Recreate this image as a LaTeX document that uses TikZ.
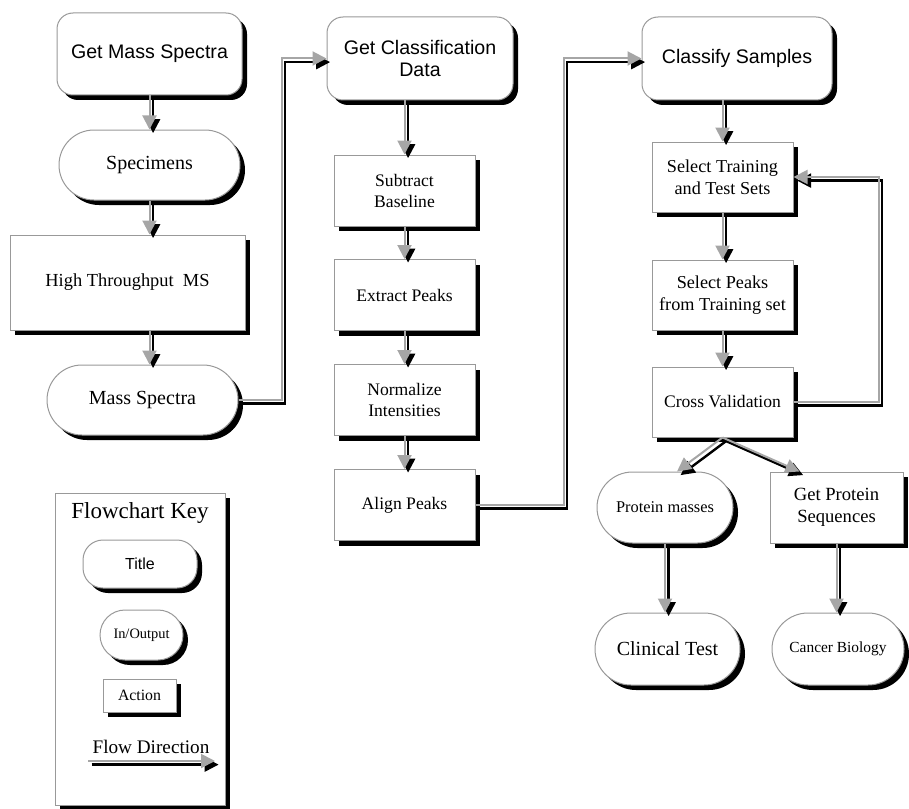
\documentclass[tikz,border=0pt]{standalone}
\usepackage{fontspec}
\setmainfont{Liberation Serif}
\newfontfamily\headfont{Liberation Sans}
\usetikzlibrary{arrows.meta,shapes.misc,shadows,calc}

\begin{document}
\begin{tikzpicture}[x=0.5pt, y=-0.5pt,
    boxshadow/.style={drop shadow={shadow xshift=2.5pt, shadow yshift=-2.5pt, fill=black, opacity=1}},
    titlebox/.style={draw=gray!80, line width=0.5pt, fill=white, boxshadow, rounded corners=8pt,
      align=center, inner sep=1pt, font=\headfont\fontsize{9.8}{11}\selectfont},
    iobox/.style={draw=gray!80, line width=0.5pt, fill=white, boxshadow, rounded rectangle,
      align=center, inner sep=1pt, font=\fontsize{10}{12}\selectfont},
    actbox/.style={draw=gray!80, line width=0.5pt, fill=white, boxshadow,
      align=center, inner sep=1pt, font=\fontsize{8.8}{10.5}\selectfont},
    pipe/.style={draw=gray!70, line width=1pt, -{Triangle[length=7pt, width=7pt]},
      preaction={draw=black, line width=1.2pt, -{Triangle[length=7pt, width=7pt]},
        transform canvas={shift={(1.8pt,-1.8pt)}}}}]
  \useasboundingbox (0,0) rectangle (909,808);
  % column one: getting the spectra
  \node[titlebox, minimum width=92.5pt, minimum height=41pt] (gms) at (149.5,54) {Get Mass Spectra};
  \node[iobox, minimum width=92.5pt, minimum height=35pt] (spec) at (149.5,165) {Specimens};
  \node[actbox, minimum width=117.5pt, minimum height=47.5pt, font=\fontsize{9.2}{11}\selectfont]
       (hts) at (127.5,282.5) {High Throughput\ \ MS};
  \node[iobox, minimum width=97.5pt, minimum height=35pt] (ms) at (142.5,400) {Mass Spectra};
  % column two: preprocessing
  \node[titlebox, minimum width=93pt, minimum height=41.5pt] (gcd) at (420,58.5) {Get Classification\\Data};
  \node[actbox, minimum width=70.5pt, minimum height=35.5pt] (sb) at (404.5,190.5) {Subtract\\Baseline};
  \node[actbox, minimum width=70.5pt, minimum height=35.5pt] (ep) at (404.5,295) {Extract Peaks};
  \node[actbox, minimum width=70.5pt, minimum height=35.5pt] (ni) at (404.5,400) {Normalize\\Intensities};
  \node[actbox, minimum width=70.5pt, minimum height=35.5pt] (ap) at (404.5,505) {Align Peaks};
  % column three: classification
  \node[titlebox, minimum width=95pt, minimum height=41.5pt] (cs) at (737,58.5) {Classify Samples};
  \node[actbox, minimum width=70.5pt, minimum height=35pt, font=\fontsize{9.1}{10.8}\selectfont]
       (st) at (722.5,177) {Select Training\\and Test Sets};
  \node[actbox, minimum width=70.5pt, minimum height=35pt, font=\fontsize{9.1}{10.8}\selectfont]
       (sp) at (722.5,295) {Select Peaks\\from Training set};
  \node[actbox, minimum width=70.5pt, minimum height=35pt, font=\fontsize{8.8}{10.5}\selectfont]
       (cv) at (722.5,402) {Cross Validation};
  \node[iobox, minimum width=70pt, minimum height=35.5pt, font=\fontsize{8.2}{10}\selectfont]
       (pm) at (665,507.5) {Protein masses};
  \node[actbox, minimum width=66.5pt, minimum height=35.5pt, font=\fontsize{9.3}{11}\selectfont]
       (gps) at (836.5,507.5) {Get Protein\\Sequences};
  \node[iobox, minimum width=74.5pt, minimum height=36pt] (ct) at (667.5,649) {Clinical Test};
  \node[iobox, minimum width=68pt, minimum height=36pt, font=\fontsize{7.7}{9}\selectfont]
       (cb) at (838,649) {Cancer Biology};
  % key
  \node[actbox, minimum width=85pt, minimum height=156pt] (keybox) at (140,649) {};
  \node[font=\fontsize{11.5}{13}\selectfont] (keyhead) at (140,513) {Flowchart Key};
  \node[titlebox, rounded corners=10pt, minimum width=57pt, minimum height=24pt,
       font=\headfont\fontsize{8}{9}\selectfont] (ktitle) at (140,564) {Title};
  \node[iobox, minimum width=43.5pt, minimum height=25pt, font=\fontsize{7.2}{8}\selectfont]
       (kio) at (141.5,635) {In/Output};
  \node[actbox, minimum width=36.5pt, minimum height=16.5pt, font=\fontsize{7.9}{9}\selectfont]
       (kact) at (139.5,695.5) {Action};
  \node[font=\fontsize{9.6}{11}\selectfont] (kflow) at (151,747) {Flow Direction};
  \coordinate (fa) at (88,761);
  \coordinate (fb) at (215,761);
  % flow
  \draw[pipe] (gms.south) -- (spec.north);
  \draw[pipe] (spec.south) -- (spec.south |- hts.north);
  \draw[pipe] (spec.south |- hts.south) -- (spec.south |- ms.north);
  \draw[pipe] (ms.east) -- ++(43,0) |- (gcd.west);
  \draw[pipe] (sb.north |- gcd.south) -- (sb.north);
  \foreach \a/\b in {sb/ep, ep/ni, ni/ap, st/sp, sp/cv}
    \draw[pipe] (\a.south) -- (\b.north);
  \draw[pipe] (ap.east) -- ++(88,0) |- (cs.west);
  \draw[pipe] (st.north |- cs.south) -- (st.north);
  \draw[pipe] (cv.east) -- ++(85,0) |- (st.east);
  \draw[pipe] (cv.south) -- ([xshift=6pt]pm.north);
  \draw[pipe] (cv.south) -- ([xshift=15pt]gps.north west);
  \draw[pipe] (pm.south) -- (pm.south |- ct.north);
  \draw[pipe] (gps.south) -- (gps.south |- cb.north);
  \draw[pipe] (fa) -- (fb);
\end{tikzpicture}
\end{document}
